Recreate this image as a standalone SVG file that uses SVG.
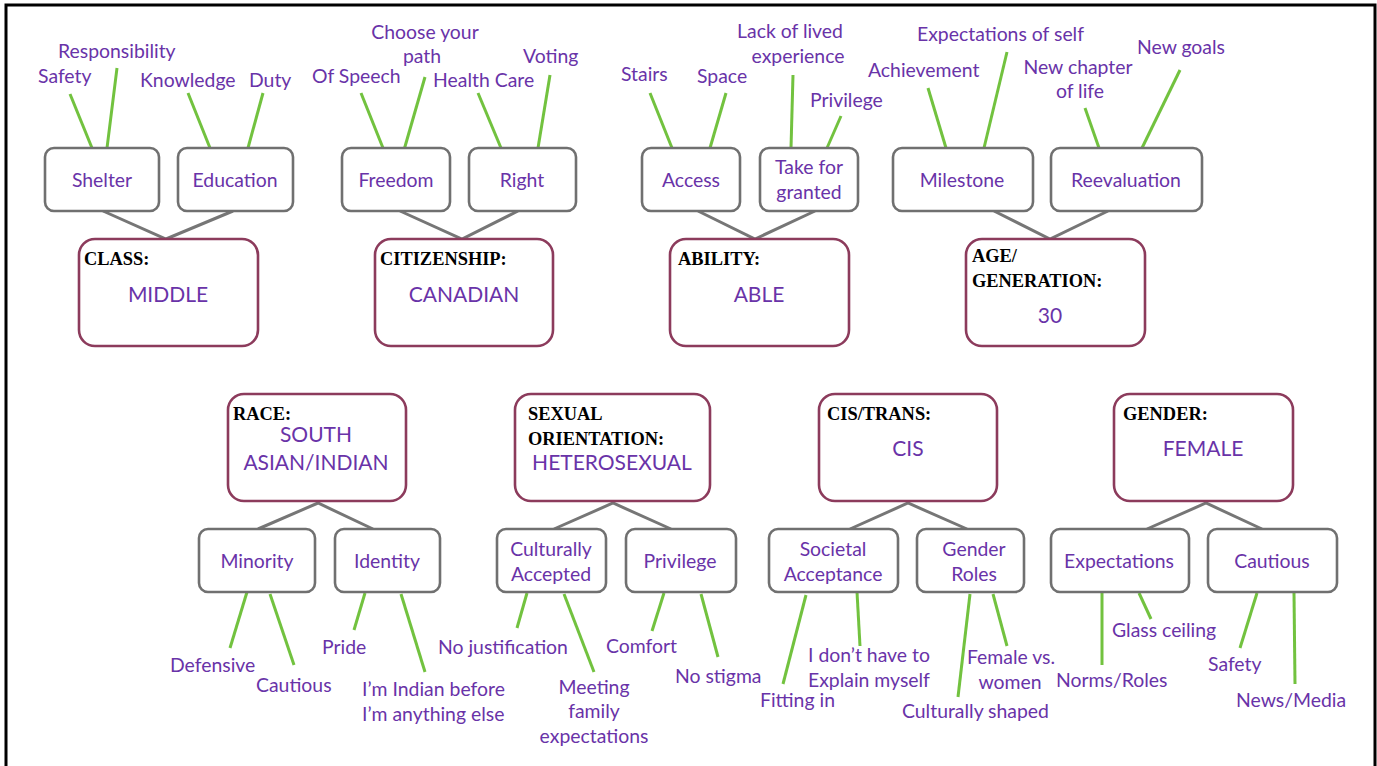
<svg xmlns="http://www.w3.org/2000/svg" width="1377" height="766" viewBox="0 0 1377 766">
<style>
.sub{fill:#fff;stroke:#707070;stroke-width:2.6}
.main{fill:#fff;stroke:#8C3B5C;stroke-width:2.6}
.t{font-family:Lato,"Open Sans",sans-serif;font-size:19.4px;fill:#6933A8}
.m{text-anchor:middle}
.h{font-family:"Liberation Serif",serif;font-weight:bold;font-size:18.4px;fill:#000}
.v{font-family:Lato,"Open Sans",sans-serif;font-size:21px;fill:#6933A8;text-anchor:middle}
.g{stroke:#72C23F;stroke-width:3;fill:none}
.c{stroke:#767676;stroke-width:3;fill:none}
</style>
<rect width="1377" height="766" fill="#fff"/>
<path d="M6,766 V5 H1375 V766" fill="none" stroke="#000" stroke-width="3"/>

<g id="connectors">
<path class="c" d="M103,211 L166,239 L233,211"/>
<path class="c" d="M400,211 L462,239 L518,211"/>
<path class="c" d="M698,211 L755,239 L815,211"/>
<path class="c" d="M994,211 L1050,239 L1108,211"/>
<path class="c" d="M258,529 L318,503 L373,529"/>
<path class="c" d="M554,529 L613,503 L671,529"/>
<path class="c" d="M850,529 L908,503 L967,529"/>
<path class="c" d="M1147,529 L1206,503 L1262,529"/>
<path class="g" d="M70,94 L92,148"/>
<path class="g" d="M117,68 L107,148"/>
<path class="g" d="M188,93 L210,148"/>
<path class="g" d="M263,93 L248,148"/>
<path class="g" d="M361,93 L383,148"/>
<path class="g" d="M425,77 L404,150"/>
<path class="g" d="M478,93 L501,148"/>
<path class="g" d="M550,75 L538,148"/>
<path class="g" d="M650,93 L672,148"/>
<path class="g" d="M726,93 L710,148"/>
<path class="g" d="M793,75 L791,148"/>
<path class="g" d="M841,116 L827,148"/>
<path class="g" d="M928,88 L946,148"/>
<path class="g" d="M1007,52 L984,148"/>
<path class="g" d="M1085,108 L1099,148"/>
<path class="g" d="M1180,70 L1142,148"/>
<path class="g" d="M247,592 L230,648"/>
<path class="g" d="M270,594 L294,665"/>
<path class="g" d="M365,593 L354,630"/>
<path class="g" d="M401,594 L425,672"/>
<path class="g" d="M527,593 L517,628"/>
<path class="g" d="M564,594 L594,672"/>
<path class="g" d="M664,593 L652,631"/>
<path class="g" d="M701,594 L718,657"/>
<path class="g" d="M806,595 L783,684"/>
<path class="g" d="M857,592 L860,646"/>
<path class="g" d="M970,594 L958,697"/>
<path class="g" d="M993,594 L1007,646"/>
<path class="g" d="M1102,593 L1102,665"/>
<path class="g" d="M1139,593 L1151,619"/>
<path class="g" d="M1257,593 L1240,648"/>
<path class="g" d="M1294,593 L1295,684"/>
</g>

<g id="class">
<rect class="main" x="79" y="239" width="179" height="107" rx="16"/>
<text class="h" x="84" y="265">CLASS:</text>
<text class="v" x="168" y="302">MIDDLE</text>
</g>
<g id="shelter"><rect class="sub" x="45" y="148" width="114" height="63" rx="9"/><text class="t m" x="102" y="187">Shelter</text></g>
<g id="education"><rect class="sub" x="178" y="148" width="115" height="63" rx="9"/><text class="t m" x="235" y="187">Education</text></g>
<g id="class-leaves">
<text class="t" x="58" y="58">Responsibility</text>
<text class="t" x="38" y="83">Safety</text>
<text class="t" x="140" y="87">Knowledge</text>
<text class="t" x="249" y="87">Duty</text>
</g>

<g id="citizenship">
<rect class="main" x="375" y="239" width="178" height="107" rx="16"/>
<text class="h" x="380" y="265">CITIZENSHIP:</text>
<text class="v" x="464" y="302">CANADIAN</text>
</g>
<g id="freedom"><rect class="sub" x="342" y="148" width="108" height="63" rx="9"/><text class="t m" x="396" y="187">Freedom</text></g>
<g id="right"><rect class="sub" x="469" y="148" width="107" height="63" rx="9"/><text class="t m" x="522" y="187">Right</text></g>
<g id="citizenship-leaves">
<text class="t" x="312" y="83">Of Speech</text>
<text class="t m" x="425" y="39">Choose your</text>
<text class="t m" x="422" y="63">path</text>
<text class="t" x="433" y="87">Health Care</text>
<text class="t" x="523" y="63">Voting</text>
</g>

<g id="ability">
<rect class="main" x="670" y="239" width="179" height="107" rx="16"/>
<text class="h" x="678" y="265">ABILITY:</text>
<text class="v" x="759" y="302">ABLE</text>
</g>
<g id="access"><rect class="sub" x="642" y="148" width="98" height="63" rx="9"/><text class="t m" x="691" y="187">Access</text></g>
<g id="take-for-granted"><rect class="sub" x="760" y="148" width="98" height="63" rx="9"/><text class="t m" x="809" y="174">Take for</text><text class="t m" x="809" y="199">granted</text></g>
<g id="ability-leaves">
<text class="t" x="621" y="81">Stairs</text>
<text class="t" x="697" y="83">Space</text>
<text class="t m" x="790" y="38">Lack of lived</text>
<text class="t m" x="798" y="63">experience</text>
<text class="t" x="810" y="107">Privilege</text>
</g>

<g id="age">
<rect class="main" x="966" y="239" width="179" height="107" rx="16"/>
<text class="h" x="972" y="262">AGE/</text>
<text class="h" x="972" y="287">GENERATION:</text>
<text class="v" x="1050" y="323">30</text>
</g>
<g id="milestone"><rect class="sub" x="893" y="148" width="140" height="63" rx="9"/><text class="t m" x="962" y="187">Milestone</text></g>
<g id="reevaluation"><rect class="sub" x="1051" y="148" width="151" height="63" rx="9"/><text class="t m" x="1126" y="187">Reevaluation</text></g>
<g id="age-leaves">
<text class="t" x="868" y="77">Achievement</text>
<text class="t" x="917" y="41">Expectations of self</text>
<text class="t m" x="1078" y="74">New chapter</text>
<text class="t m" x="1080" y="98">of life</text>
<text class="t" x="1137" y="54">New goals</text>
</g>

<g id="race">
<rect class="main" x="228" y="394" width="178" height="107" rx="16"/>
<text class="h" x="233" y="420">RACE:</text>
<text class="v" x="316" y="442">SOUTH</text>
<text class="v" x="316" y="470">ASIAN/INDIAN</text>
</g>
<g id="minority"><rect class="sub" x="199" y="529" width="116" height="63" rx="9"/><text class="t m" x="257" y="568">Minority</text></g>
<g id="identity"><rect class="sub" x="335" y="529" width="105" height="63" rx="9"/><text class="t m" x="387" y="568">Identity</text></g>
<g id="race-leaves">
<text class="t" x="170" y="672">Defensive</text>
<text class="t" x="256" y="692">Cautious</text>
<text class="t" x="322" y="654">Pride</text>
<text class="t" x="362" y="696">I’m Indian before</text>
<text class="t" x="362" y="721">I’m anything else</text>
</g>

<g id="sexual-orientation">
<rect class="main" x="515" y="394" width="195" height="107" rx="16"/>
<text class="h" x="528" y="420">SEXUAL</text>
<text class="h" x="528" y="445">ORIENTATION:</text>
<text class="v" x="612" y="470">HETEROSEXUAL</text>
</g>
<g id="culturally-accepted"><rect class="sub" x="497" y="529" width="109" height="63" rx="9"/><text class="t m" x="551" y="556">Culturally</text><text class="t m" x="551" y="581">Accepted</text></g>
<g id="privilege"><rect class="sub" x="626" y="529" width="110" height="63" rx="9"/><text class="t m" x="680" y="568">Privilege</text></g>
<g id="so-leaves">
<text class="t" x="438" y="654">No justification</text>
<text class="t m" x="594" y="694">Meeting</text>
<text class="t m" x="594" y="718">family</text>
<text class="t m" x="594" y="743">expectations</text>
<text class="t" x="606" y="653">Comfort</text>
<text class="t" x="675" y="683">No stigma</text>
</g>

<g id="cis-trans">
<rect class="main" x="819" y="394" width="178" height="107" rx="16"/>
<text class="h" x="827" y="420">CIS/TRANS:</text>
<text class="v" x="908" y="456">CIS</text>
</g>
<g id="societal-acceptance"><rect class="sub" x="769" y="529" width="129" height="63" rx="9"/><text class="t m" x="833" y="556">Societal</text><text class="t m" x="833" y="581">Acceptance</text></g>
<g id="gender-roles"><rect class="sub" x="917" y="529" width="107" height="63" rx="9"/><text class="t m" x="974" y="556">Gender</text><text class="t m" x="974" y="581">Roles</text></g>
<g id="cis-leaves">
<text class="t" x="760" y="707">Fitting in</text>
<text class="t" x="808" y="662">I don’t have to</text>
<text class="t" x="808" y="687">Explain myself</text>
<text class="t" x="902" y="718">Culturally shaped</text>
<text class="t m" x="1011" y="664">Female vs.</text>
<text class="t m" x="1010" y="689">women</text>
</g>

<g id="gender">
<rect class="main" x="1114" y="394" width="179" height="107" rx="16"/>
<text class="h" x="1123" y="420">GENDER:</text>
<text class="v" x="1203" y="456">FEMALE</text>
</g>
<g id="expectations"><rect class="sub" x="1051" y="529" width="138" height="63" rx="9"/><text class="t m" x="1119" y="568">Expectations</text></g>
<g id="cautious"><rect class="sub" x="1208" y="529" width="129" height="63" rx="9"/><text class="t m" x="1272" y="568">Cautious</text></g>
<g id="gender-leaves">
<text class="t" x="1112" y="637">Glass ceiling</text>
<text class="t" x="1056" y="687">Norms/Roles</text>
<text class="t" x="1208" y="671">Safety</text>
<text class="t" x="1236" y="707">News/Media</text>
</g>
</svg>
